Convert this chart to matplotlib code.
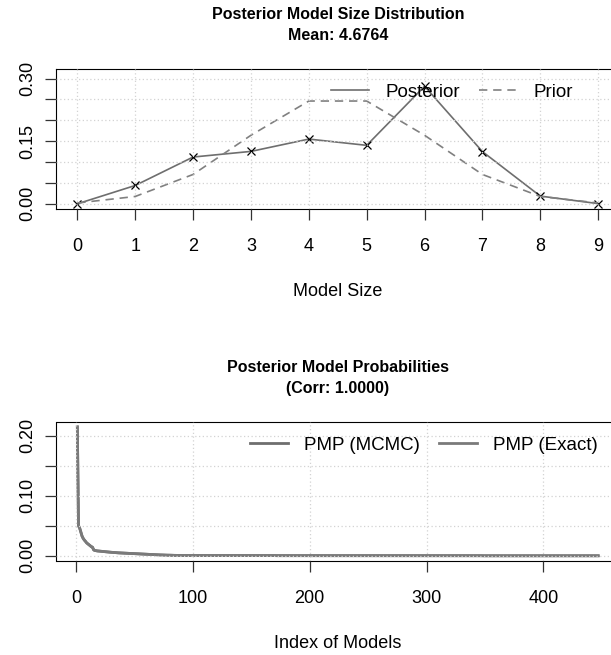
import numpy as np
import matplotlib
matplotlib.use("Agg")
import matplotlib.pyplot as plt

plt.rcParams['font.family'] = ['Liberation Sans', 'DejaVu Sans']

# Taille des modèles
model_size = [0, 1, 2, 3, 4, 5, 6, 7, 8, 9]
posterior = [0.0, 0.0439, 0.112, 0.1255, 0.155, 0.140, 0.2815, 0.125, 0.0185, 0.0005]
prior = [0.002, 0.0176, 0.0703, 0.1641, 0.2461, 0.2461, 0.1641, 0.0703, 0.0176, 0.002]
mean_size = 4.6764

# PMP triées (tête explicite + queue en paliers)
pmp_head = [0.2144, 0.0500, 0.0462, 0.0395, 0.0330, 0.0290, 0.0262, 0.0240, 0.0215, 0.0200,
            0.0185, 0.0168, 0.0152, 0.0144, 0.0098, 0.0090, 0.0086, 0.0082, 0.0080, 0.0077,
            0.0075, 0.0073, 0.0071, 0.0069, 0.0067, 0.0065, 0.0063, 0.0062, 0.0061, 0.0059,
            0.0058, 0.0056, 0.0055, 0.0053, 0.0052, 0.0050, 0.0049, 0.0048, 0.0047, 0.0046,
            0.0044, 0.0043, 0.0042, 0.0041, 0.0040, 0.0039, 0.0038, 0.0037, 0.0036, 0.0035,
            0.0034, 0.0033, 0.0032, 0.0031, 0.0030, 0.0029, 0.0028, 0.0028, 0.0027, 0.0026,
            0.0025, 0.0024, 0.0023, 0.0022, 0.0021, 0.0020, 0.0019, 0.0019, 0.0018, 0.0017,
            0.0016, 0.0015, 0.0015, 0.0014, 0.0013, 0.0012, 0.0012, 0.0011, 0.0011, 0.0010,
            0.0010, 0.0009, 0.0009, 0.0008, 0.0008, 0.0007, 0.0007, 0.0007, 0.0006, 0.0006]
pmp_tail_levels = [0.0005, 0.0004, 0.0003, 0.0002, 0.0001]
pmp_tail_counts = [30, 50, 80, 97, 100]
pmp_exact = np.concatenate([pmp_head, np.repeat(pmp_tail_levels, pmp_tail_counts)])
pmp_mcmc = pmp_exact.copy()
corr = 1.0

W, H = 611, 655
fig = plt.figure(figsize=(W / 100, H / 100), dpi=100)


def px_box(left, top, right, bottom):
    return [left / W, 1 - bottom / H, (right - left) / W, (bottom - top) / H]


def style_axes(ax):
    ax.set_axisbelow(False)
    ax.grid(True, color='#d3d3d3', linestyle=(0, (1, 2)), linewidth=0.9)
    for s in ax.spines.values():
        s.set_linewidth(0.8)
    ax.tick_params(length=8, width=0.9, labelsize=13, color='#333333')
    ax.tick_params(axis='x', pad=13)
    ax.tick_params(axis='y', pad=6.5)


# ---- Haut : distribution de la taille ----
ax1 = fig.add_axes(px_box(56.5, 69.3, 619, 209))
ax1.plot(model_size, posterior, color='#6e6e6e', lw=1.2, zorder=2,
         marker='x', mec='black', mew=0.9, ms=6, label='Posterior')
ax1.plot(model_size, prior, color='#808080', lw=1.2, ls=(0, (5, 3.5)), zorder=2, label='Prior')
ytop = 1.1 * max(posterior)
ax1.set_xlim(-0.36, 9.36)
ax1.set_ylim(-0.04 * ytop, ytop * 1.04)
ax1.set_xticks(model_size)
ax1.set_yticks([0, 0.05, 0.10, 0.15, 0.20, 0.25, 0.30])
ax1.set_yticklabels(['0.00', '', '', '0.15', '', '', '0.30'])
style_axes(ax1)
ax1.set_xlabel('Model Size', fontsize=13, labelpad=20)
leg1 = ax1.legend(loc='center right', bbox_to_anchor=(573 / W, 1 - 92.3 / H),
                  bbox_transform=fig.transFigure, ncol=2, frameon=False, fontsize=13.5,
                  handlelength=2.0, handletextpad=0.9, columnspacing=1.0,
                  borderpad=0, borderaxespad=0)
for h in leg1.legend_handles:
    h.set_marker('')

fig.text(337.8 / W, 1 - 19.3 / H, 'Posterior Model Size Distribution',
         ha='center', va='baseline', fontsize=11.5, fontweight='bold')
fig.text(337.8 / W, 1 - 40.5 / H, f'Mean: {mean_size:.4f}',
         ha='center', va='baseline', fontsize=11.5, fontweight='bold')

# ---- Bas : probabilités des modèles ----
idx = np.arange(1, len(pmp_exact) + 1)
ax2 = fig.add_axes(px_box(56.5, 421.7, 619, 561))
ax2.plot(idx, pmp_mcmc, color='#6e6e6e', lw=2.0, zorder=2, label='PMP (MCMC)')
ax2.plot(idx, pmp_exact, color='#7a7a7a', lw=2.0, zorder=2, label='PMP (Exact)')
n = len(idx)
ymax = max(pmp_exact)
ax2.set_xlim(1 - 0.04 * (n - 1), n + 0.04 * (n - 1))
ax2.set_ylim(-0.04 * ymax, ymax * 1.04)
ax2.set_xticks([0, 100, 200, 300, 400])
ax2.set_yticks([0, 0.05, 0.10, 0.15, 0.20])
ax2.set_yticklabels(['0.00', '', '0.10', '', '0.20'])
style_axes(ax2)
ax2.set_xlabel('Index of Models', fontsize=13, labelpad=20)
ax2.legend(loc='center right', bbox_to_anchor=(598.2 / W, 1 - 445 / H),
           bbox_transform=fig.transFigure, ncol=2, frameon=False, fontsize=13.5,
           handlelength=2.0, handletextpad=0.9, columnspacing=1.0,
           borderpad=0, borderaxespad=0)

fig.text(337.8 / W, 1 - 371.7 / H, 'Posterior Model Probabilities',
         ha='center', va='baseline', fontsize=11.5, fontweight='bold')
fig.text(337.8 / W, 1 - 392.5 / H, f'(Corr: {corr:.4f})',
         ha='center', va='baseline', fontsize=11.5, fontweight='bold')

for ax in (ax1, ax2):
    for lab in ax.get_yticklabels():
        lab.set_rotation(90)
        lab.set_va('center')

fig.savefig('out.png', dpi=100)
